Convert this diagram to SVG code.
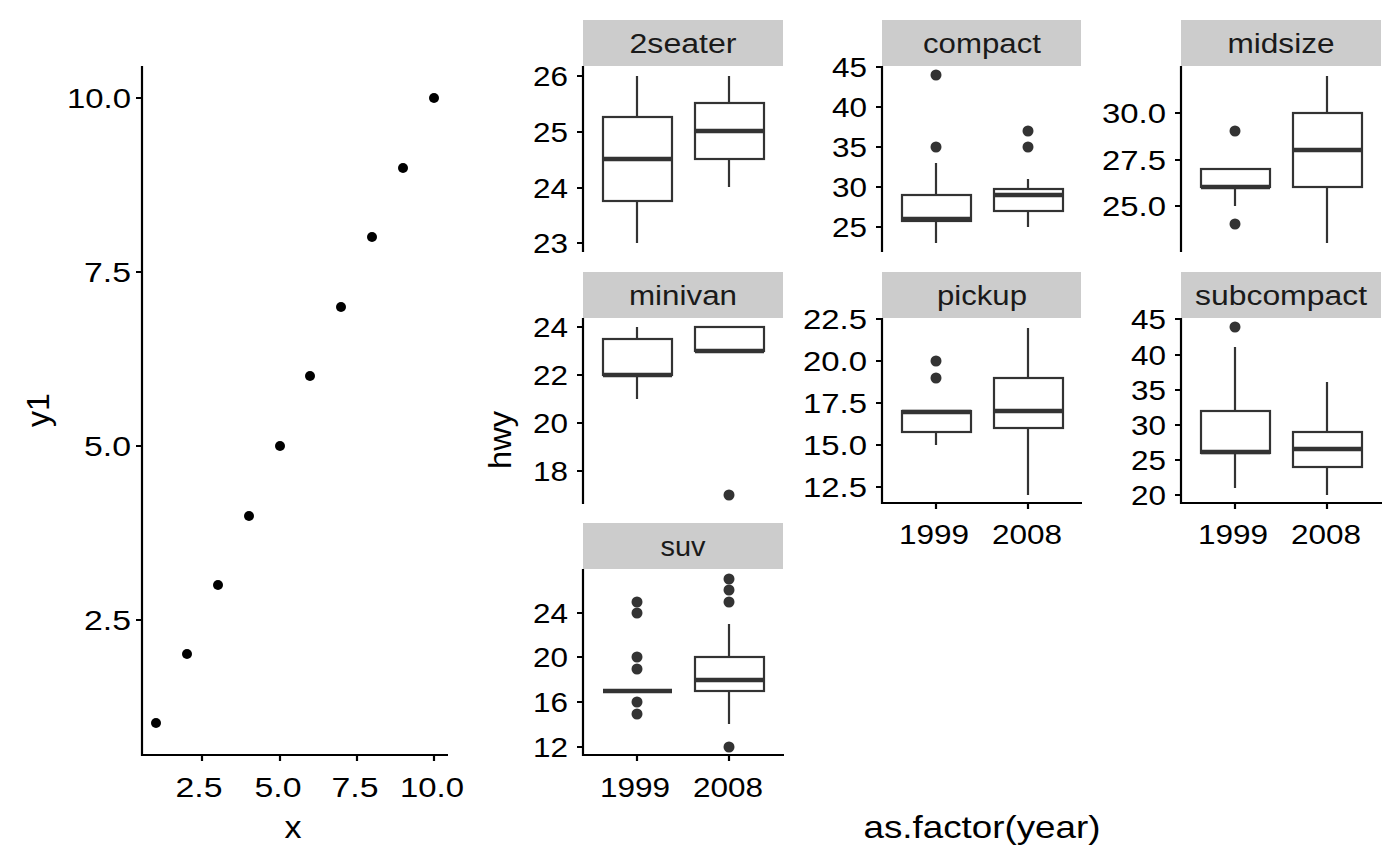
<svg xmlns="http://www.w3.org/2000/svg" width="1400" height="866" viewBox="0 0 1400 866">
<style>
text{font-family:"Liberation Sans",Arial,sans-serif;fill:#000;font-size:28px}
.t{text-anchor:middle}
.r{text-anchor:end}
.ax{stroke:#000;stroke-width:2.2;fill:none}
.tk{stroke:#000;stroke-width:2.2}
.b{fill:#fff;stroke:#333;stroke-width:2.2}
.m{stroke:#333;stroke-width:4.5}
.w{stroke:#333;stroke-width:2.2}
.o{fill:#333}
.p{fill:#000}
.s{fill:#ccc}
.st{fill:#1a1a1a;text-anchor:middle;font-size:27px}
.lab{fill:#000;font-size:32px;text-anchor:middle}
</style>
<rect width="1400" height="866" fill="#fff"/>
<g id="scatter">
<path class="ax" d="M142 66V755H448"/>
<g class="tk"><path d="M136 98h6M136 272h6M136 446h6M136 620h6M202 755v6M280 755v6M357 755v6M434 755v6"/></g>
<g class="r" lengthAdjust="spacingAndGlyphs"><text x="131" y="108" textLength="64" lengthAdjust="spacingAndGlyphs">10.0</text><text x="131" y="282" textLength="47" lengthAdjust="spacingAndGlyphs">7.5</text><text x="131" y="456" textLength="47" lengthAdjust="spacingAndGlyphs">5.0</text><text x="131" y="630" textLength="47" lengthAdjust="spacingAndGlyphs">2.5</text></g>
<g class="t"><text x="199" y="797" textLength="47" lengthAdjust="spacingAndGlyphs">2.5</text><text x="278" y="797" textLength="47" lengthAdjust="spacingAndGlyphs">5.0</text><text x="355" y="797" textLength="47" lengthAdjust="spacingAndGlyphs">7.5</text><text x="432" y="797" textLength="64" lengthAdjust="spacingAndGlyphs">10.0</text></g>
<g class="p"><circle cx="156" cy="723" r="5"/><circle cx="187" cy="654" r="5"/><circle cx="218" cy="585" r="5"/><circle cx="249" cy="516" r="5"/><circle cx="280" cy="446" r="5"/><circle cx="310" cy="376" r="5"/><circle cx="341" cy="307" r="5"/><circle cx="372" cy="237" r="5"/><circle cx="403" cy="168" r="5"/><circle cx="434" cy="98" r="5"/></g>
<text class="lab" x="293" y="838" textLength="17" lengthAdjust="spacingAndGlyphs">x</text>
<text class="lab" transform="translate(49 410) rotate(-90)" textLength="34" lengthAdjust="spacingAndGlyphs">y1</text>
</g>
<g id="p2seater">
<rect class="s" x="583" y="20" width="200" height="46"/><text class="st" x="683" y="53" textLength="107" lengthAdjust="spacingAndGlyphs">2seater</text>
<path class="ax" d="M583 66V252"/>
<path class="tk" d="M577 76h6M577 132h6M577 188h6M577 243h6"/>
<g class="r"><text x="568" y="86" textLength="35" lengthAdjust="spacingAndGlyphs">26</text><text x="568" y="142" textLength="35" lengthAdjust="spacingAndGlyphs">25</text><text x="568" y="198" textLength="35" lengthAdjust="spacingAndGlyphs">24</text><text x="568" y="253" textLength="35" lengthAdjust="spacingAndGlyphs">23</text></g>
<path class="w" d="M637 76V243M729 76V187"/>
<rect class="b" x="603" y="117" width="69" height="84"/><path class="m" d="M603 159h69"/>
<rect class="b" x="695" y="103" width="69" height="56"/><path class="m" d="M695 131h69"/>
</g>
<g id="pcompact">
<rect class="s" x="882" y="20" width="199" height="46"/><text class="st" x="982" y="53" textLength="118" lengthAdjust="spacingAndGlyphs">compact</text>
<path class="ax" d="M882 66V252"/>
<path class="tk" d="M876 67h6M876 107h6M876 147h6M876 187h6M876 227h6"/>
<g class="r"><text x="867" y="77" textLength="35" lengthAdjust="spacingAndGlyphs">45</text><text x="867" y="117" textLength="35" lengthAdjust="spacingAndGlyphs">40</text><text x="867" y="157" textLength="35" lengthAdjust="spacingAndGlyphs">35</text><text x="867" y="197" textLength="35" lengthAdjust="spacingAndGlyphs">30</text><text x="867" y="237" textLength="35" lengthAdjust="spacingAndGlyphs">25</text></g>
<path class="w" d="M936 243V163M1028 227V179"/>
<rect class="b" x="902" y="195" width="69" height="26"/><path class="m" d="M902 219h69"/>
<rect class="b" x="994" y="189" width="69" height="22"/><path class="m" d="M994 195h69"/>
<g class="o"><circle cx="936" cy="147" r="5.5"/><circle cx="936" cy="75" r="5.5"/><circle cx="1028" cy="147" r="5.5"/><circle cx="1028" cy="131" r="5.5"/></g>
</g>
<g id="pmidsize">
<rect class="s" x="1181" y="20" width="200" height="46"/><text class="st" x="1281" y="53" textLength="107" lengthAdjust="spacingAndGlyphs">midsize</text>
<path class="ax" d="M1181 66V252"/>
<path class="tk" d="M1175 113h6M1175 160h6M1175 206h6"/>
<g class="r"><text x="1166" y="123" textLength="64" lengthAdjust="spacingAndGlyphs">30.0</text><text x="1166" y="170" textLength="64" lengthAdjust="spacingAndGlyphs">27.5</text><text x="1166" y="216" textLength="64" lengthAdjust="spacingAndGlyphs">25.0</text></g>
<path class="w" d="M1235 187V206M1327 76V243"/>
<rect class="b" x="1201" y="169" width="69" height="18"/><path class="m" d="M1201 187h69"/>
<rect class="b" x="1293" y="113" width="69" height="74"/><path class="m" d="M1293 150h69"/>
<g class="o"><circle cx="1235" cy="131" r="5.5"/><circle cx="1235" cy="224" r="5.5"/></g>
</g>
<g id="pminivan">
<rect class="s" x="583" y="272" width="200" height="46"/><text class="st" x="683" y="305" textLength="108" lengthAdjust="spacingAndGlyphs">minivan</text>
<path class="ax" d="M583 318V504"/>
<path class="tk" d="M577 327h6M577 375h6M577 423h6M577 471h6"/>
<g class="r"><text x="568" y="337" textLength="35" lengthAdjust="spacingAndGlyphs">24</text><text x="568" y="385" textLength="35" lengthAdjust="spacingAndGlyphs">22</text><text x="568" y="433" textLength="35" lengthAdjust="spacingAndGlyphs">20</text><text x="568" y="481" textLength="35" lengthAdjust="spacingAndGlyphs">18</text></g>
<path class="w" d="M637 327V399"/>
<rect class="b" x="603" y="339" width="69" height="36"/><path class="m" d="M603 375h69"/>
<rect class="b" x="695" y="327" width="69" height="24"/><path class="m" d="M695 351h69"/>
<circle class="o" cx="729" cy="495" r="5.5"/>
</g>
<g id="ppickup">
<rect class="s" x="882" y="272" width="199" height="46"/><text class="st" x="982" y="305" textLength="90" lengthAdjust="spacingAndGlyphs">pickup</text>
<path class="ax" d="M882 318V503H1082"/>
<path class="tk" d="M876 319h6M876 361h6M876 403h6M876 445h6M876 487h6M936 503v6M1028 503v6"/>
<g class="r"><text x="867" y="329" textLength="64" lengthAdjust="spacingAndGlyphs">22.5</text><text x="867" y="371" textLength="64" lengthAdjust="spacingAndGlyphs">20.0</text><text x="867" y="413" textLength="64" lengthAdjust="spacingAndGlyphs">17.5</text><text x="867" y="455" textLength="64" lengthAdjust="spacingAndGlyphs">15.0</text><text x="867" y="497" textLength="64" lengthAdjust="spacingAndGlyphs">12.5</text></g>
<g class="t"><text x="934" y="544" textLength="70" lengthAdjust="spacingAndGlyphs">1999</text><text x="1027" y="544" textLength="70" lengthAdjust="spacingAndGlyphs">2008</text></g>
<path class="w" d="M936 411V445M1028 328V495"/>
<rect class="b" x="902" y="411" width="69" height="21"/><path class="m" d="M902 412h69"/>
<rect class="b" x="994" y="378" width="69" height="50"/><path class="m" d="M994 411h69"/>
<g class="o"><circle cx="936" cy="361" r="5.5"/><circle cx="936" cy="378" r="5.5"/></g>
</g>
<g id="psubcompact">
<rect class="s" x="1181" y="272" width="200" height="46"/><text class="st" x="1281" y="305" textLength="172" lengthAdjust="spacingAndGlyphs">subcompact</text>
<path class="ax" d="M1181 318V503H1382"/>
<path class="tk" d="M1175 319h6M1175 355h6M1175 390h6M1175 425h6M1175 460h6M1175 495h6M1235 503v6M1327 503v6"/>
<g class="r"><text x="1166" y="329" textLength="35" lengthAdjust="spacingAndGlyphs">45</text><text x="1166" y="365" textLength="35" lengthAdjust="spacingAndGlyphs">40</text><text x="1166" y="400" textLength="35" lengthAdjust="spacingAndGlyphs">35</text><text x="1166" y="435" textLength="35" lengthAdjust="spacingAndGlyphs">30</text><text x="1166" y="470" textLength="35" lengthAdjust="spacingAndGlyphs">25</text><text x="1166" y="505" textLength="35" lengthAdjust="spacingAndGlyphs">20</text></g>
<g class="t"><text x="1233" y="544" textLength="70" lengthAdjust="spacingAndGlyphs">1999</text><text x="1326" y="544" textLength="70" lengthAdjust="spacingAndGlyphs">2008</text></g>
<path class="w" d="M1235 347V488M1327 382V495"/>
<rect class="b" x="1201" y="411" width="69" height="42"/><path class="m" d="M1201 452h69"/>
<rect class="b" x="1293" y="432" width="69" height="35"/><path class="m" d="M1293 449h69"/>
<circle class="o" cx="1235" cy="327" r="5.5"/>
</g>
<g id="psuv">
<rect class="s" x="583" y="523" width="200" height="46"/><text class="st" x="683" y="556" textLength="45" lengthAdjust="spacingAndGlyphs">suv</text>
<path class="ax" d="M583 569V755H784"/>
<path class="tk" d="M577 613h6M577 657h6M577 702h6M577 747h6M637 755v6M729 755v6"/>
<g class="r"><text x="568" y="623" textLength="35" lengthAdjust="spacingAndGlyphs">24</text><text x="568" y="667" textLength="35" lengthAdjust="spacingAndGlyphs">20</text><text x="568" y="712" textLength="35" lengthAdjust="spacingAndGlyphs">16</text><text x="568" y="757" textLength="35" lengthAdjust="spacingAndGlyphs">12</text></g>
<g class="t"><text x="635" y="797" textLength="70" lengthAdjust="spacingAndGlyphs">1999</text><text x="728" y="797" textLength="70" lengthAdjust="spacingAndGlyphs">2008</text></g>
<path class="m" d="M603 691h69"/>
<path class="w" d="M729 624V724"/>
<rect class="b" x="695" y="657" width="69" height="34"/><path class="m" d="M695 680h69"/>
<g class="o"><circle cx="637" cy="714" r="5.5"/><circle cx="637" cy="702" r="5.5"/><circle cx="637" cy="669" r="5.5"/><circle cx="637" cy="657" r="5.5"/><circle cx="637" cy="613" r="5.5"/><circle cx="637" cy="602" r="5.5"/><circle cx="729" cy="747" r="5.5"/><circle cx="729" cy="602" r="5.5"/><circle cx="729" cy="590" r="5.5"/><circle cx="729" cy="579" r="5.5"/></g>
</g>
<text class="lab" transform="translate(511 440) rotate(-90)" textLength="58" lengthAdjust="spacingAndGlyphs">hwy</text>
<text class="lab" x="982" y="838" textLength="237" lengthAdjust="spacingAndGlyphs">as.factor(year)</text>
</svg>
